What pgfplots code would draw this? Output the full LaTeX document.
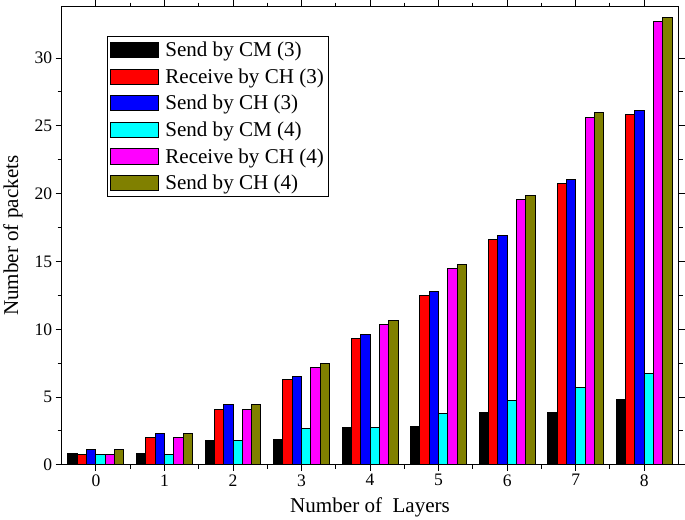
\documentclass[border=0pt]{standalone}
\usepackage{fontspec}
\setmainfont{Liberation Serif}
\usepackage{pgfplots}
\pgfplotsset{compat=1.18}
\definecolor{myolive}{RGB}{128,128,0}
\definecolor{mycyan}{RGB}{0,255,255}
\definecolor{mymagenta}{RGB}{255,0,255}
\definecolor{myred}{RGB}{255,0,0}
\definecolor{myblue}{RGB}{0,0,255}
\begin{document}
\begin{tikzpicture}
\begin{axis}[
  scale only axis, width=615pt, height=457pt,
  xmin=-0.5, xmax=8.5, ymin=0, ymax=33.8,
  ybar=0pt, bar width=0.136,
  xtick={0,...,8}, minor x tick num=1,
  ytick={0,5,...,30}, minor y tick num=1,
  tick align=outside, major tick length=6pt, minor tick length=4pt,
  tick style={black, line width=1pt},
  axis line style={line width=1pt},
  /pgf/number format/assume math mode=true,
  ticklabel style={font=\fontsize{17.5}{20}\selectfont},
  xlabel={Number of \ Layers}, ylabel={Number of packets},
  label style={font=\fontsize{21}{24}\selectfont},
  xlabel style={yshift=-4pt},
  ylabel style={yshift=5pt},
  legend cell align=left,
  legend style={at={(0.073,0.935)}, anchor=north west, font=\fontsize{21}{24}\selectfont,
    draw=black, line width=1pt, inner sep=3pt, row sep=6.5pt,
    /tikz/every odd column/.append style={column sep=4pt}},
  legend image code/.code={\draw[#1, line width=1pt] (0pt,-7.5pt) rectangle (48pt,7.5pt);},
  every axis plot/.append style={draw=black, line width=1pt},
]
\addplot[fill=black] coordinates {(0,0.84) (1,0.84) (2,1.78) (3,1.85) (4,2.79) (5,2.84) (6,3.83) (7,3.83) (8,4.79)};
\addplot[fill=myred] coordinates {(0,0.80) (1,2.03) (2,4.12) (3,6.27) (4,9.34) (5,12.52) (6,16.62) (7,20.76) (8,25.85)};
\addplot[fill=myblue] coordinates {(0,1.16) (1,2.32) (2,4.42) (3,6.54) (4,9.63) (5,12.81) (6,16.91) (7,21.07) (8,26.15)};
\addplot[fill=mycyan] coordinates {(0,0.80) (1,0.80) (2,1.78) (3,2.71) (4,2.79) (5,3.78) (6,4.74) (7,5.73) (8,6.72)};
\addplot[fill=mymagenta] coordinates {(0,0.80) (1,2.03) (2,4.12) (3,7.19) (4,10.35) (5,14.50) (6,19.58) (7,25.65) (8,32.70)};
\addplot[fill=myolive] coordinates {(0,1.16) (1,2.32) (2,4.42) (3,7.48) (4,10.67) (5,14.79) (6,19.87) (7,25.98) (8,32.96)};
\legend{Send by CM (3),Receive by CH (3),Send by CH (3),Send by CM (4),Receive by CH (4),Send by CH (4)}
\end{axis}
\end{tikzpicture}
\end{document}
